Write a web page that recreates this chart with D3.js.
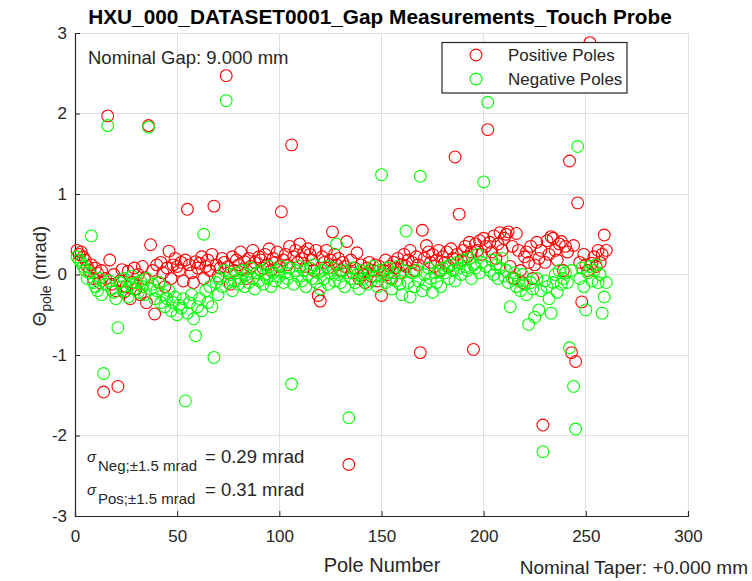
<!DOCTYPE html>
<html><head><meta charset="utf-8">
<script src="https://cdn.jsdelivr.net/npm/d3@7"></script>
<style>
html,body{margin:0;padding:0;background:#fff;}
svg{display:block;font-family:"Liberation Sans",Arial,Helvetica,sans-serif;}
</style></head>
<body>
<svg id="chart" width="752" height="581"></svg>
<script>
const titleText = "HXU_000_DATASET0001_Gap Measurements_Touch Probe";
const xTicks = [0, 50, 100, 150, 200, 250, 300];
const yTicks = [-3, -2, -1, 0, 1, 2, 3];
const seriesNames = ["Positive Poles", "Negative Poles"];
const seriesColors = ["#ff0000", "#00ff00"];

// Positive poles (red), pole 1..260
const positivePoles = [
 0.30, 0.25, 0.28, 0.22, 0.18, 0.10, 0.05, 0.12, -0.05, 0.08,
 0.02, -0.10, 0.05, -1.46, -0.05, 1.97, 0.18, -0.12, 0.00, -0.20,
 -1.39, -0.08, 0.06, -0.22, -0.15, 0.04, -0.30, -0.10, 0.08, -0.18,
 0.00, -0.25, 0.10, -0.05, -0.35, 1.85, 0.37, 0.05, -0.49, 0.12,
 -0.10, 0.15, 0.02, -0.15, 0.08, 0.29, -0.05, 0.12, 0.20, 0.10,
 0.05, 0.15, -0.08, 0.18, 0.81, 0.12, 0.02, -0.10, 0.16, 0.08,
 0.14, 0.22, -0.05, 0.10, 0.18, 0.05, 0.25, 0.85, 0.12, -0.02,
 0.08, 0.20, 0.15, 2.47, 0.10, -0.12, 0.22, 0.05, 0.18, 0.12,
 0.28, 0.06, 0.16, -0.05, 0.20, 0.10, 0.30, 0.15, 0.02, 0.22,
 0.18, 0.08, 0.25, 0.12, 0.32, 0.05, 0.20, 0.15, 0.28, 0.10,
 0.78, 0.18, 0.25, 0.12, 0.35, 1.61, 0.22, 0.30, 0.15, 0.38,
 0.20, 0.28, 0.10, 0.32, 0.25, 0.18, 0.05, 0.30, -0.26, -0.33,
 0.22, 0.15, 0.30, 0.08, 0.18, 0.53, 0.25, 0.12, 0.20, 0.05,
 0.15, 0.10, 0.41, -2.36, 0.18, 0.02, 0.08, 0.27, -0.05, 0.12,
 0.00, -0.10, 0.08, 0.15, -0.02, 0.05, 0.12, -0.08, 0.10, -0.26,
 0.05, 0.18, 0.00, 0.10, -0.05, 0.15, 0.08, 0.20, 0.02, 0.12,
 0.25, 0.10, 0.18, 0.30, 0.15, 0.05, 0.22, 0.12, -0.97, 0.55,
 0.20, 0.36, 0.28, 0.15, 0.25, 0.10, 0.18, 0.30, 0.05, 0.22,
 0.15, 0.28, 0.10, 0.32, 0.20, 1.46, 0.25, 0.75, 0.18, 0.30,
 0.35, 0.22, 0.40, 0.28, -0.93, 0.38, 0.30, 0.42, 0.25, 0.45,
 0.35, 1.80, 0.40, 0.28, 0.48, 0.20, 0.38, 0.52, 0.30, 0.45,
 0.50, 0.53, 0.10, 0.35, -0.05, 0.51, 0.30, 0.05, -0.10, 0.22,
 0.28, 0.15, 0.35, -0.05, 0.12, 0.40, 0.20, 0.30, -1.87, 0.15,
 0.42, 0.25, 0.47, 0.45, 0.30, 0.18, 0.38, 0.41, 0.05, 0.35,
 0.28, 1.41, -0.97, 0.36, -1.08, 0.89, 0.15, -0.34, 0.25, 0.12,
 0.05, 2.88, 0.14, 0.22, 0.10, 0.30, 0.15, 0.25, 0.49, 0.30
];

// Negative poles (green), pole 1..260
const negativePoles = [
 0.22, 0.18, 0.15, 0.10, 0.05, -0.05, 0.02, 0.48, -0.10, -0.15,
 -0.20, -0.05, -0.25, -1.23, -0.12, 1.85, -0.08, -0.18, -0.22, -0.30,
 -0.66, -0.10, -0.15, -0.05, -0.20, -0.28, -0.12, -0.02, -0.18, -0.10,
 -0.22, -0.08, -0.15, -0.25, -0.05, 1.83, -0.18, -0.12, -0.30, -0.20,
 -0.10, -0.35, -0.25, -0.40, -0.30, -0.20, -0.45, -0.35, -0.28, -0.50,
 -0.38, -0.42, -0.30, -1.57, -0.48, -0.35, -0.25, -0.55, -0.76, -0.40,
 -0.30, -0.45, 0.50, -0.20, -0.35, -0.15, -0.40, -1.03, -0.10, -0.25,
 -0.05, -0.15, 0.05, 2.16, -0.10, 0.00, -0.20, -0.08, 0.02, -0.12,
 -0.05, 0.05, -0.15, 0.00, -0.10, 0.08, -0.05, -0.18, 0.02, -0.08,
 0.05, -0.12, 0.00, -0.05, 0.10, -0.15, 0.02, -0.08, 0.05, -0.02,
 0.10, -0.10, 0.02, -0.05, 0.08, -1.36, -0.12, 0.05, -0.02, 0.10,
 -0.08, 0.05, -0.15, 0.00, 0.08, -0.05, 0.12, -0.10, 0.02, -0.18,
 0.05, -0.05, 0.10, -0.12, 0.02, 0.08, -0.08, 0.38, 0.00, -0.10,
 0.05, -0.15, 0.02, -1.78, -0.05, 0.08, -0.10, 0.00, -0.18, 0.05,
 -0.05, 0.02, -0.12, 0.05, -0.08, 0.10, -0.02, -0.15, 0.05, 1.24,
 0.00, -0.10, 0.08, -0.05, -0.18, 0.02, -0.08, 0.10, -0.12, -0.25,
 0.05, 0.54, -0.10, -0.28, 0.02, -0.15, 0.05, -0.08, 1.22, -0.20,
 0.00, -0.12, 0.08, -0.05, -0.22, 0.02, -0.10, 0.05, -0.15, 0.08,
 0.02, 0.10, -0.05, 0.12, 0.05, -0.08, 0.15, 0.08, 0.00, 0.18,
 0.10, 0.05, 0.20, -0.05, 0.12, 0.08, 0.25, 0.02, 0.15, 1.15,
 0.10, 2.14, 0.05, 0.18, 0.00, 0.12, -0.05, 0.08, 0.20, -0.02,
 0.05, -0.10, -0.40, -0.05, 0.02, -0.15, -0.08, -0.20, 0.00, -0.12,
 -0.25, -0.62, -0.10, -0.18, -0.53, -0.05, -0.44, -0.20, -2.20, -0.08,
 -0.15, -0.30, -0.48, -0.10, 0.00, -0.22, 0.05, -0.12, -0.05, 0.02,
 -0.10, -0.91, 0.05, -1.39, -1.92, 1.59, -0.05, 0.08, -0.15, -0.44,
 0.02, 0.10, -0.08, 0.05, 0.12, -0.10, 0.00, -0.48, -0.28, -0.10
];

const svg = d3.select("#chart");
const W = 752, H = 581;
const m = {left: 75, right: 752 - 688, top: 33, bottom: 581 - 516};
const x = d3.scaleLinear().domain([0, 300]).range([m.left, W - m.right]);
const y = d3.scaleLinear().domain([-3, 3]).range([H - m.bottom, m.top]);
const axisColor = "#262626";
const gridColor = "#dfdfdf";

// grid
const g = svg.append("g");
g.selectAll("line.gx").data(xTicks).enter().append("line")
  .attr("x1", d => x(d)).attr("x2", d => x(d))
  .attr("y1", y(-3)).attr("y2", y(3))
  .attr("stroke", gridColor).attr("stroke-width", 1).attr("shape-rendering", "crispEdges");
g.selectAll("line.gy").data(yTicks).enter().append("line")
  .attr("x1", x(0)).attr("x2", x(300))
  .attr("y1", d => y(d)).attr("y2", d => y(d))
  .attr("stroke", gridColor).attr("stroke-width", 1).attr("shape-rendering", "crispEdges");

// axes
const fmt = d => String(d);
const xAxis = d3.axisBottom(x).tickValues(xTicks).tickSize(-5).tickPadding(12).tickFormat(fmt);
const yAxis = d3.axisLeft(y).tickValues(yTicks).tickSize(-5).tickPadding(10).tickFormat(fmt);
const gx = svg.append("g").attr("transform", `translate(0,${y(-3)})`).call(xAxis);
const gy = svg.append("g").attr("transform", `translate(${x(0)},0)`).call(yAxis);
[gx, gy].forEach(a => {
  a.select(".domain").attr("stroke", axisColor).attr("stroke-width", 1.2);
  a.selectAll(".tick line").attr("stroke", axisColor);
  a.selectAll(".tick text").attr("fill", axisColor)
    .style("font-size", "17px").style("font-family", '"Liberation Sans",Arial,sans-serif');
});
gx.selectAll(".tick text").attr("dy", "0.71em").attr("y", 14);
gy.selectAll(".tick text").attr("x", -8);

// points
const series = [positivePoles, negativePoles];
series.forEach((vals, si) => {
  svg.append("g").selectAll("circle").data(vals).enter().append("circle")
    .attr("cx", (d, i) => x(i + 1))
    .attr("cy", d => y(d))
    .attr("r", 5.9)
    .attr("fill", "none")
    .attr("stroke", seriesColors[si])
    .attr("stroke-width", 1.1);
});

// title
svg.append("text").attr("x", 380).attr("y", 24).attr("text-anchor", "middle")
  .style("font-size", "20.8px").style("font-weight", "bold").attr("fill", "#000")
  .text(titleText);

// x label
svg.append("text").attr("x", 382).attr("y", 572).attr("text-anchor", "middle")
  .style("font-size", "20px").attr("fill", axisColor).text("Pole Number");

// y label
const yl = svg.append("text").attr("transform", `translate(46,276) rotate(-90)`)
  .attr("text-anchor", "middle").style("font-size", "18.5px").attr("fill", axisColor);
yl.append("tspan").text("Θ");
yl.append("tspan").attr("dy", 5).style("font-size", "14px").text("pole");
yl.append("tspan").attr("dy", -5).text(" (mrad)");

// annotations
svg.append("text").attr("x", 88).attr("y", 64).style("font-size", "18.5px").attr("fill", axisColor)
  .text("Nominal Gap: 9.000 mm");
svg.append("text").attr("x", 748).attr("y", 574).attr("text-anchor", "end")
  .style("font-size", "19px").attr("fill", axisColor).text("Nominal Taper: +0.000 mm");

const sig = [["Neg;±1.5 mrad", "= 0.29 mrad", 463], ["Pos;±1.5 mrad", "= 0.31 mrad", 496]];
sig.forEach(s => {
  svg.append("text").attr("x", 87).attr("y", s[2] - 1).style("font-size", "15px")
    .style("font-style", "italic").attr("fill", axisColor).text("σ");
  svg.append("text").attr("x", 98).attr("y", s[2] + 8).style("font-size", "15px")
    .attr("fill", axisColor).text(s[0]);
  svg.append("text").attr("x", 205).attr("y", s[2]).style("font-size", "18.5px")
    .attr("fill", axisColor).text(s[1]);
});

// legend
const lg = svg.append("g");
lg.append("rect").attr("x", 442).attr("y", 42.5).attr("width", 185).attr("height", 50.5)
  .attr("fill", "#fff").attr("stroke", axisColor).attr("stroke-width", 1.2);
seriesNames.forEach((n, i) => {
  const yy = 55 + i * 24;
  lg.append("circle").attr("cx", 476).attr("cy", yy).attr("r", 5.9)
    .attr("fill", "none").attr("stroke", seriesColors[i]).attr("stroke-width", 1.1);
  lg.append("text").attr("x", 508).attr("y", yy + 6).style("font-size", "17px")
    .attr("fill", axisColor).text(n);
});
</script>
</body></html>
